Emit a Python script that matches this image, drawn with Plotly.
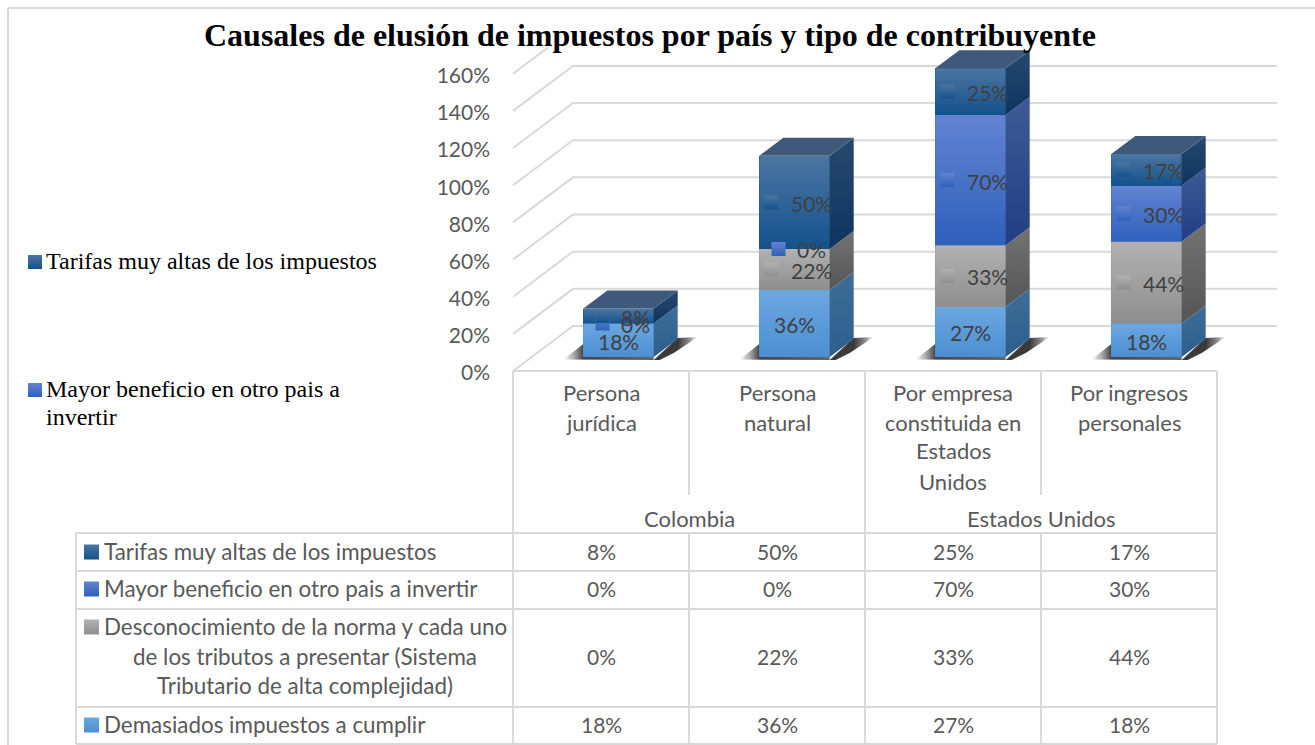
import plotly.graph_objects as go

TITLE = "Causales de elusión de impuestos por país y tipo de contribuyente"
categories = ["Persona<br>jurídica", "Persona<br>natural",
              "Por empresa<br>constituida en<br>Estados<br>Unidos", "Por ingresos<br>personales"]
groups = ["Colombia", "Estados Unidos"]
tick_values = [0, 20, 40, 60, 80, 100, 120, 140, 160]
tick_labels = ["0%", "20%", "40%", "60%", "80%", "100%", "120%", "140%", "160%"]

demasiados = [18, 36, 27, 18]
desconocimiento = [0, 22, 33, 44]
mayor_beneficio = [0, 0, 70, 30]
tarifas = [8, 50, 25, 17]

name_demasiados = "Demasiados impuestos a cumplir"
name_desconocimiento = ["Desconocimiento de la norma y cada uno",
                        "de los tributos a presentar (Sistema",
                        "Tributario de alta complejidad)"]
name_mayor = "Mayor beneficio en otro pais a invertir"
name_tarifas = "Tarifas muy altas de los impuestos"

W, H = 1315, 745
FONT = "Lato"
SERIF = "Liberation Serif"
TXT = "#595959"
LBL = "#404040"
GRID = "#D9D9D9"

# pixel layout of the pseudo-3D frame
PXY = 1.8625
PXF = 1.858
BAR0_X, SLOT, BAR0_Y = 618.5, 176.0, 357.0
FRONT0_Y = 373.0
GRID_SHIFT = 2 / PXF
DEPTH_X, DEPTH_Y = 60.0, 45.0
BOX_X, BOX_Y = 24.0 / SLOT, 18.0 / PXY
HALF = 0.2

xval = lambda px: (px - BAR0_X) / SLOT
xp = lambda px: px / W
yp = lambda py: 1 - py / H

series = [
    dict(v=demasiados, label=name_demasiados, front=("#6DA7E0", "#4B8FD2"), side=("#3F6D99", "#2D5E8B"), key=False),
    dict(v=desconocimiento, label=name_desconocimiento[0], front=("#B2B2B2", "#8E8E8E"), side=("#737373", "#555555"), key=True),
    dict(v=mayor_beneficio, label=name_mayor, front=("#6384D2", "#2F60BB"), side=("#3F5A96", "#203E82"), key=True),
    dict(v=tarifas, label=name_tarifas, front=("#4C76A2", "#14518C"), side=("#28496E", "#0E3460"), key=True),
]
TOP_FACE = "#3E5979"

fig = go.Figure()

# gridlines on the value axis (front edge -> back wall -> right end)
for t in tick_values:
    y0 = t + GRID_SHIFT
    if t < 160:
        xs = [xval(513), xval(513 + DEPTH_X), xval(1277)]
        ys = [y0, y0 + DEPTH_Y / PXF, y0 + DEPTH_Y / PXF]
    else:
        xs = [xval(513), xval(513 + DEPTH_X * 0.58)]
        ys = [y0, y0 + DEPTH_Y * 0.58 / PXF]
    fig.add_trace(go.Scatter(x=xs, y=ys, mode="lines", yaxis="y", showlegend=False, hoverinfo="skip",
                             line=dict(color=GRID, width=2)))


def poly(xs, ys, scale, kind="vertical"):
    if kind == "vertical":
        start, stop = max(ys), min(ys)
    else:
        start, stop = min(xs), max(xs)
    fig.add_trace(go.Scatter(x=xs + xs[:1], y=ys + ys[:1], mode="lines", fill="toself", yaxis="y2",
                             line=dict(width=0, color="rgba(0,0,0,0)"), hoverinfo="skip", showlegend=False,
                             fillgradient=dict(type=kind, start=start, stop=stop, colorscale=scale)))


cats = list(range(len(categories)))

# floor shadows
for i in cats:
    l, r = i - HALF, i + HALF
    d = 1 / PXY
    poly([l - 20 / SLOT, r, r, l, l], [-2.5 * d, -3 * d, 0, 0, 13 * d],
         [[0, "#FFFFFF"], [0.12, "#A8A8A8"], [0.22, "#444444"], [1, "#666666"]], "horizontal")
    poly([r, r + 24 / SLOT, r + 44 / SLOT, r + 20 / SLOT, r + 6 / SLOT], [-3 * d, 19 * d, 20 * d, 4 * d, -3 * d],
         [[0, "#3A3A3A"], [0.55, "#3A3A3A"], [0.8, "#8A8A8A"], [1, "#FFFFFF"]], "horizontal")

# real stacked bars
for s in series:
    fig.add_trace(go.Bar(x=cats, y=s["v"], name=s["label"], yaxis="y2", width=HALF * 2,
                         marker=dict(color=s["front"][1], line=dict(width=0)), showlegend=False))

# depth faces and front shading, all derived from the stack
base = [0] * len(cats)
for s in series:
    for i in cats:
        v = s["v"][i]
        if v == 0:
            continue
        b, t = base[i], base[i] + v
        l, r = i - HALF, i + HALF
        poly([l, r, r, l], [t, t, b, b], [[0, s["front"][0]], [1, s["front"][1]]])
        poly([r, r + BOX_X, r + BOX_X, r], [t, t + BOX_Y, b + BOX_Y, b], [[0, s["side"][0]], [1, s["side"][1]]])
        base[i] = t
for i in cats:
    l, r, t = i - HALF, i + HALF, base[i]
    poly([l, r, r + BOX_X, l + BOX_X], [t, t, t + BOX_Y, t + BOX_Y], [[0, TOP_FACE], [1, TOP_FACE]])

annotations, shapes = [], []


def note(px, py, text, size=21, color=TXT, family=FONT, anchor="center", bold=False):
    annotations.append(dict(x=xp(px), y=yp(py - 1), xref="paper", yref="paper", text=f"<b>{text}</b>" if bold else text,
                            showarrow=False, xanchor=anchor, yanchor="middle", xshift=-2 if anchor == "left" else 0,
                            font=dict(size=size, color=color, family=family)))


def hline(x0, x1, y):
    shapes.append(dict(type="line", xref="paper", yref="paper", x0=xp(x0), x1=xp(x1), y0=yp(y), y1=yp(y),
                       line=dict(color=GRID, width=2), layer="below"))


def vline(x, y0, y1):
    shapes.append(dict(type="line", xref="paper", yref="paper", x0=xp(x), x1=xp(x), y0=yp(y0), y1=yp(y1),
                       line=dict(color=GRID, width=2), layer="below"))


def key_marker(xs, ys, s, size=14):
    fig.add_trace(go.Scatter(x=xs, y=ys, mode="markers", yaxis="y2", showlegend=False, hoverinfo="skip",
                             marker=dict(symbol="square", size=size, color=s["front"][0], line=dict(width=0),
                                         gradient=dict(type="vertical", color=s["front"][1]))))


# data labels with their legend keys
base = [0] * len(cats)
for s in series:
    for i in cats:
        v = s["v"][i]
        mid = base[i] + v / 2
        base[i] += v
        if v == 0 and s["label"] != name_mayor:
            continue
        off = 17 if s["key"] else 0
        annotations.append(dict(x=i, y=mid, xref="x", yref="y2", text=f"{v}%", showarrow=False, xshift=off, yshift=-1,
                                font=dict(size=21, color=LBL, family=FONT)))
        if s["key"]:
            key_off = -16 if v < 10 else -23
            key_marker([i + key_off / SLOT], [mid], s)

# frame
vline(8, 8, 745)
hline(8, 1315, 8)

# data table grid
COLS = [513, 689, 865, 1041, 1217]
ROWS = [533, 571, 609, 707, 744]
hline(513, 1217, 371)
for y in ROWS:
    hline(76, 1217, y)
vline(76, 533, 744)
for x in (513, 865, 1217):
    vline(x, 371, 744)
for x in (689, 1041):
    vline(x, 371, 495)
    vline(x, 533, 744)

# category and group headers
LINE_Y = [394, 423, 451, 482]
for i, c in enumerate(categories):
    for ly, part in zip(LINE_Y, c.split("<br>")):
        note((COLS[i] + COLS[i + 1]) / 2, ly, part, size=22)
for g, gx in zip(groups, (689, 1041)):
    note(gx, 519, g, size=22)

# table body
table_rows = [(series[3], 552), (series[2], 589), (series[1], 657), (series[0], 725)]
for s, y in table_rows:
    for i in cats:
        note((COLS[i] + COLS[i + 1]) / 2, y, f"{s['v'][i]}%")
note(104, 552, name_tarifas, size=22.4, anchor="left")
note(104, 589, name_mayor, size=22.4, anchor="left")
note(104, 627, name_desconocimiento[0], size=22.4, anchor="left")
note(305, 657, name_desconocimiento[1], size=22.4)
note(305, 686, name_desconocimiento[2], size=22.4)
note(104, 725, name_demasiados, size=22.4, anchor="left")
for s, y in zip([series[3], series[2], series[1], series[0]], (552, 589, 627, 725)):
    key_marker([xval(91.5)], [(BAR0_Y - y) / PXY], s, size=15)

# side legend
note(46, 262, name_tarifas, size=24, color="#000000", family=SERIF, anchor="left")
note(46, 390, "Mayor beneficio en otro pais a", size=24, color="#000000", family=SERIF, anchor="left")
note(46, 418, "invertir", size=24, color="#000000", family=SERIF, anchor="left")
key_marker([xval(35)], [(BAR0_Y - 262) / PXY], series[3], size=14)
key_marker([xval(35)], [(BAR0_Y - 390) / PXY], series[2], size=14)

# title
note(650, 36, TITLE, size=32, color="#000000", family=SERIF, bold=True)

fig.update_layout(
    width=W, height=H, autosize=False, margin=dict(l=0, r=0, t=0, b=0),
    paper_bgcolor="white", plot_bgcolor="white", barmode="stack", showlegend=False,
    xaxis=dict(range=[xval(0), xval(W)], visible=False, fixedrange=True),
    yaxis=dict(range=[(FRONT0_Y - H) / PXF, FRONT0_Y / PXF], anchor="free", position=490 / W,
               tickvals=tick_values, ticktext=tick_labels, showgrid=False, zeroline=False, showline=False,
               ticks="", tickfont=dict(size=21, color=TXT, family=FONT), fixedrange=True),
    yaxis2=dict(range=[(BAR0_Y - H) / PXY, BAR0_Y / PXY], overlaying="y", visible=False, fixedrange=True),
    annotations=annotations, shapes=shapes,
)

fig.write_html("out.html", config={"displayModeBar": False},
               post_script="document.body.style.margin='0';document.documentElement.style.overflow='hidden';")
